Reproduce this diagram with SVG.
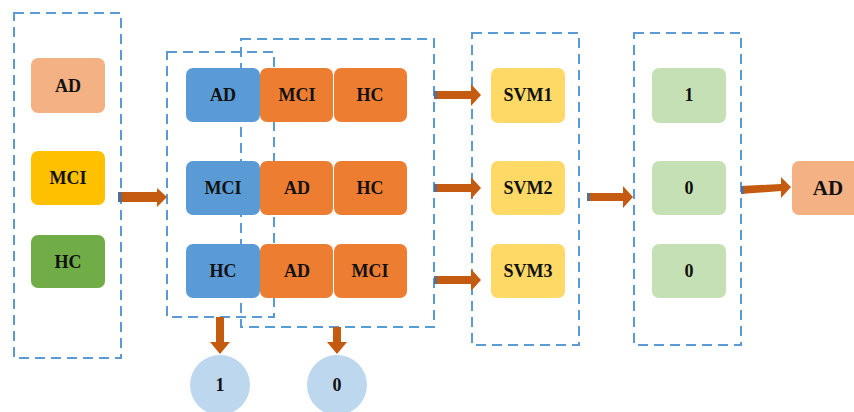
<svg xmlns="http://www.w3.org/2000/svg" width="854" height="412" viewBox="0 0 854 412">
<style>
.box{fill:none;stroke:#5B9BD5;stroke-width:2;stroke-dasharray:10,6}
.t{font-family:"Liberation Serif","Times New Roman",serif;font-weight:bold;font-size:18px;fill:#111;text-anchor:middle;dominant-baseline:central}
.arr{fill:#C55A11}
.tail{fill:#5A6E8C}
</style>
<rect width="854" height="412" fill="#fff"/>
<g id="containers">
<rect class="box" x="14" y="13" width="107" height="345"/>
<rect class="box" x="167" y="52" width="107" height="265"/>
<rect class="box" x="241" y="39" width="193" height="288"/>
<rect class="box" x="472" y="33" width="107" height="312"/>
<rect class="box" x="634" y="33" width="107" height="312"/>
</g>
<g id="n-ad"><rect x="31" y="58" width="74" height="55" rx="7" fill="#F4B183"/><text class="t" x="68" y="86">AD</text></g>
<g id="n-mci"><rect x="31" y="151" width="74" height="54" rx="7" fill="#FFC000"/><text class="t" x="68" y="178">MCI</text></g>
<g id="n-hc"><rect x="31" y="235" width="74" height="53" rx="7" fill="#70AD47"/><text class="t" x="68" y="262">HC</text></g>

<g id="r1-ad"><rect x="186" y="68" width="74" height="54" rx="7" fill="#5B9BD5"/><text class="t" x="223" y="95">AD</text></g>
<g id="r1-mci"><rect x="260" y="68" width="73" height="54" rx="7" fill="#ED7D31"/><text class="t" x="297" y="95">MCI</text></g>
<g id="r1-hc"><rect x="334" y="68" width="73" height="54" rx="7" fill="#ED7D31"/><text class="t" x="370" y="95">HC</text></g>

<g id="r2-mci"><rect x="186" y="161" width="74" height="54" rx="7" fill="#5B9BD5"/><text class="t" x="223" y="188">MCI</text></g>
<g id="r2-ad"><rect x="260" y="161" width="73" height="54" rx="7" fill="#ED7D31"/><text class="t" x="297" y="188">AD</text></g>
<g id="r2-hc"><rect x="334" y="161" width="73" height="54" rx="7" fill="#ED7D31"/><text class="t" x="370" y="188">HC</text></g>

<g id="r3-hc"><rect x="186" y="244" width="74" height="54" rx="7" fill="#5B9BD5"/><text class="t" x="223" y="271">HC</text></g>
<g id="r3-ad"><rect x="260" y="244" width="73" height="54" rx="7" fill="#ED7D31"/><text class="t" x="297" y="271">AD</text></g>
<g id="r3-mci"><rect x="334" y="244" width="73" height="54" rx="7" fill="#ED7D31"/><text class="t" x="370" y="271">MCI</text></g>

<g id="c1"><circle cx="220" cy="385" r="30" fill="#BDD7EE"/><text class="t" x="220" y="385">1</text></g>
<g id="c0"><circle cx="337" cy="385" r="30" fill="#BDD7EE"/><text class="t" x="337" y="385">0</text></g>

<g id="svm1"><rect x="491" y="68" width="74" height="55" rx="7" fill="#FFD966"/><text class="t" x="528" y="95">SVM1</text></g>
<g id="svm2"><rect x="491" y="161" width="74" height="54" rx="7" fill="#FFD966"/><text class="t" x="528" y="188">SVM2</text></g>
<g id="svm3"><rect x="491" y="244" width="74" height="54" rx="7" fill="#FFD966"/><text class="t" x="528" y="271">SVM3</text></g>

<g id="o1"><rect x="652" y="68" width="74" height="55" rx="7" fill="#C5E0B4"/><text class="t" x="689" y="95">1</text></g>
<g id="o2"><rect x="652" y="161" width="74" height="54" rx="7" fill="#C5E0B4"/><text class="t" x="689" y="188">0</text></g>
<g id="o3"><rect x="652" y="244" width="74" height="54" rx="7" fill="#C5E0B4"/><text class="t" x="689" y="271">0</text></g>

<g id="final-ad"><rect x="792" y="161" width="80" height="54" rx="7" fill="#F4B183"/><text class="t" x="828" y="188" style="font-size:21px">AD</text></g>

<g id="connectors">
<path class="arr" d="M118,192 H157 V188 L167,197 L157,207 V202 H118 Z"/>
<rect class="tail" x="118" y="192" width="4" height="10"/>
<path class="arr" d="M434,91 H471 V84 L481,95 L471,106 V99 H434 Z"/>
<rect class="tail" x="434" y="91" width="3" height="8"/>
<path class="arr" d="M434,184 H471 V177 L481,188 L471,199 V192 H434 Z"/>
<rect class="tail" x="434" y="184" width="3" height="8"/>
<path class="arr" d="M434,276 H471 V269 L481,280 L471,291 V284 H434 Z"/>
<rect class="tail" x="434" y="276" width="3" height="8"/>
<path class="arr" d="M587,193 H623 V186 L633,197 L623,208 V201 H587 Z"/>
<rect class="tail" x="587" y="193" width="3" height="8"/>
<path class="arr" d="M741,186 L781,184 V177 L791,187 L781,198 V191 L741,194 Z"/>
<rect class="tail" x="741" y="186" width="3" height="8"/>
<path class="arr" d="M216,317 V342 H210 L220,354 L230,342 H224 V317 Z"/>
<path class="arr" d="M333,327 V342 H327 L337,354 L347,342 H341 V327 Z"/>
</g>
</svg>
